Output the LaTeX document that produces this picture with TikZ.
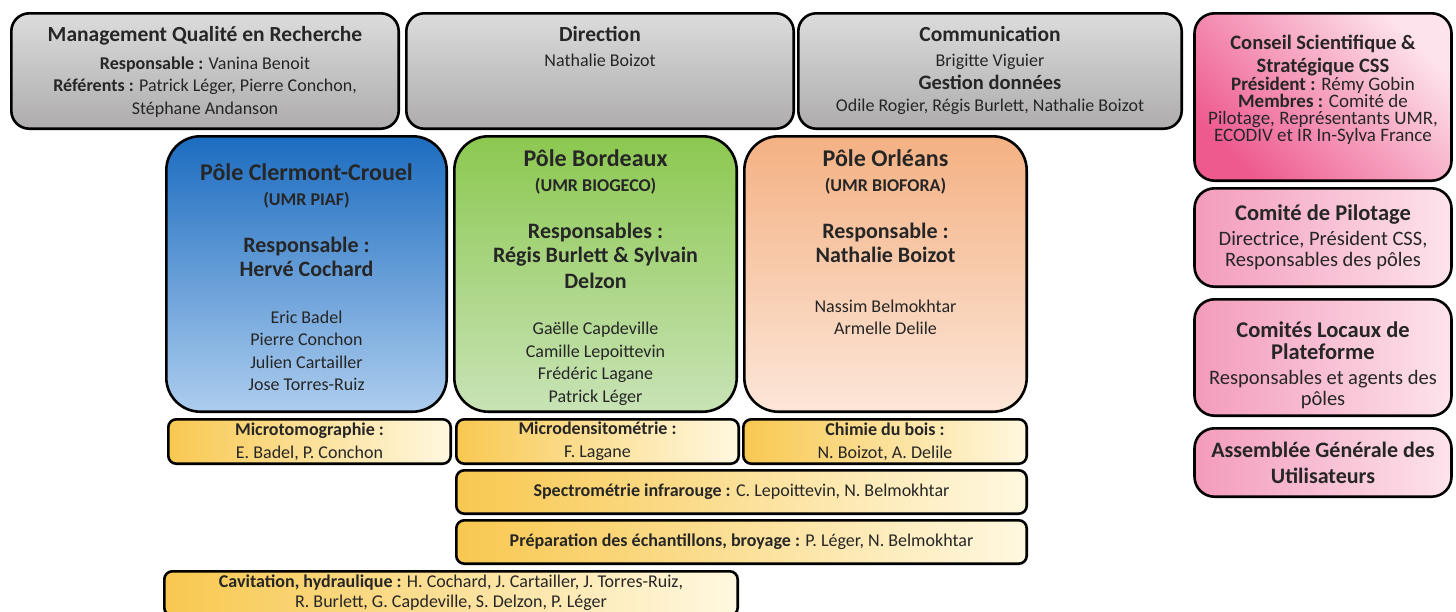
\documentclass[tikz,border=0pt]{standalone}
\usepackage{fontspec}
\setmainfont{Carlito}
\usetikzlibrary{positioning}

\newcommand{\fsz}[2]{\fontsize{#1}{#2}\selectfont}

\definecolor{graytop}{HTML}{DCDCDC}
\definecolor{graybot}{HTML}{AEACAC}
\definecolor{bluetop}{HTML}{1C6CC0}
\definecolor{bluemid}{HTML}{5C9BE0}
\definecolor{bluebot}{HTML}{ADCDEE}
\definecolor{greentop}{HTML}{8CC850}
\definecolor{greenbot}{HTML}{C8E3B6}
\definecolor{orangetop}{HTML}{F4B183}
\definecolor{orangebot}{HTML}{FCE6D8}
\definecolor{goldleft}{HTML}{F8C850}
\definecolor{goldright}{HTML}{FFF8E0}
\definecolor{pinkleft}{HTML}{F39BBB}
\definecolor{pinkright}{HTML}{FDE3EC}
\definecolor{pinkdeep}{HTML}{EE5A8E}
\definecolor{inkdark}{HTML}{262626}

\begin{document}
\begin{tikzpicture}[
    x=1pt, y=-1pt,
    node distance=6pt,
    box/.style={draw=black, line width=2.6pt, anchor=north west, inner sep=0pt, outer sep=0pt},
    topbox/.style={box, rounded corners=18pt, top color=graytop, bottom color=graybot, minimum height=115.4pt},
    pole/.style={box, rounded corners=34pt, minimum height=275.4pt},
    tool/.style={box, rounded corners=8pt, left color=goldleft, right color=goldright, align=center, text=inkdark, font=\fsz{18}{23}},
    council/.style={box, rounded corners=20pt, left color=pinkleft, right color=pinkright, minimum width=257pt},
    boxtext/.style={anchor=north, align=center, inner sep=0pt, text=inkdark, font=\fsz{18}{22.5}},
    pinktext/.style={boxtext, font={\fsz{20.5}{21}\lineskiplimit=-30pt}}
]
\clip (0,0) rectangle (1456,611);
\useasboundingbox (0,0) rectangle (1456,611);

% Bandeau du haut
\node[topbox, minimum width=387.4pt] (mqr) at (11.3,13.3) {};
\node[topbox, minimum width=387.4pt, right=7.6pt of mqr] (direction) {};
\node[topbox, minimum width=383.4pt, right=4.6pt of direction] (comm) {};

\node[boxtext, below=13pt of mqr.north] (mqr_txt) {
    \fsz{21.5}{22}\bfseries Management Qualité en Recherche\\[5pt]
    \textbf{Responsable :} Vanina Benoit\\
    \textbf{Référents :} Patrick Léger, Pierre Conchon,\\
    Stéphane Andanson
};
\node[boxtext, below=13pt of direction.north] (direction_txt) {
    \fsz{21.5}{22}\bfseries Direction\\[2.5pt]
    Nathalie Boizot
};
\node[boxtext, below=13pt of comm.north] (comm_txt) {
    \fsz{21.5}{22}\bfseries Communication\\[2.5pt]
    Brigitte Viguier\\
    \fsz{20.5}{22}\bfseries Gestion données\\
    Odile Rogier, Régis Burlett, Nathalie Boizot
};

% Instances (colonne de droite)
\node[council, minimum height=167.4pt, left color=pinkdeep, right color=pinkright, shading angle=135] (css) at (1194.5,13.3) {};
\node[council, minimum height=98.4pt, below=7.6pt of css] (copil) {};
\node[council, minimum height=116.4pt, below=12.6pt of copil] (clp) {};
\node[council, minimum height=68.4pt, below=12.6pt of clp] (agu) {};

\node[pinktext, font={\fsz{19}{17}\lineskiplimit=-30pt}, below=22pt of css.north] (css_txt) {
    \fsz{20.5}{23}\bfseries Conseil Scientifique \&\\[6pt]
    \fsz{20.5}{23}\bfseries Stratégique CSS\\[1pt]
    \textbf{Président :} Rémy Gobin\\
    \textbf{Membres :} Comité de\\
    Pilotage, Représentants UMR,\\
    ECODIV et IR In-Sylva France
};
\node[pinktext, below=16.5pt of copil.north] (copil_txt) {
    \fsz{22.5}{23}\bfseries Comité de Pilotage\\[4pt]
    Directrice, Président CSS,\\
    Responsables des pôles
};
\node[pinktext, below=22pt of clp.north] (clp_txt) {
    \fsz{22.5}{23}\bfseries Comités Locaux de\\[1pt]
    \fsz{22.5}{23}\bfseries Plateforme\\[4pt]
    Responsables et agents des\\
    pôles
};
\node[pinktext, font={\fsz{22}{26}\lineskiplimit=-30pt}, below=14pt of agu.north] (agu_txt) {
    \bfseries Assemblée Générale des\\
    \bfseries Utilisateurs
};

% Pôles
\node[pole, minimum width=280.4pt, top color=bluetop, middle color=bluemid, bottom color=bluebot] (clermont) at (166.3,136.3) {};
\node[pole, minimum width=282.4pt, top color=greentop, bottom color=greenbot, right=7.6pt of clermont] (bordeaux) {};
\node[pole, minimum width=282.4pt, top color=orangetop, bottom color=orangebot, right=7.6pt of bordeaux] (orleans) {};

\node[boxtext, below=27pt of clermont.north] (clermont_txt) {
    \fsz{24}{25}\bfseries Pôle Clermont-Crouel\\[3pt]
    \fsz{18}{20}\bfseries (UMR PIAF)\\[24pt]
    \fsz{22}{24}\bfseries Responsable :\\[2pt]
    \fsz{22}{24}\bfseries Hervé Cochard\\[24pt]
    Eric Badel\\
    Pierre Conchon\\
    Julien Cartailler\\
    Jose Torres-Ruiz
};
\node[boxtext, below=13pt of bordeaux.north] (bordeaux_txt) {
    \fsz{24}{25}\bfseries Pôle Bordeaux\\[3pt]
    \fsz{18}{20}\bfseries (UMR BIOGECO)\\[24pt]
    \fsz{22}{24}\bfseries Responsables :\\[2pt]
    \fsz{22}{24}\bfseries Régis Burlett \& Sylvain\\[3pt]
    \fsz{22}{24}\bfseries Delzon\\[24pt]
    Gaëlle Capdeville\\
    Camille Lepoittevin\\
    Frédéric Lagane\\
    Patrick Léger
};
\node[boxtext, below=13pt of orleans.north] (orleans_txt) {
    \fsz{24}{25}\bfseries Pôle Orléans\\[3pt]
    \fsz{18}{20}\bfseries (UMR BIOFORA)\\[24pt]
    \fsz{22}{24}\bfseries Responsable :\\[2pt]
    \fsz{22}{24}\bfseries Nathalie Boizot\\[27pt]
    Nassim Belmokhtar\\
    Armelle Delile
};

% Plateformes techniques
\node[tool, minimum width=282.4pt, minimum height=44.4pt] (microtomo) at (168.3,419.3) {
    \bfseries Microtomographie :\\ E. Badel, P. Conchon};
\node[tool, minimum width=282.4pt, minimum height=44.4pt, right=5.6pt of microtomo] (microdensi) {
    \bfseries Microdensitométrie :\\ F. Lagane};
\node[tool, minimum width=283.4pt, minimum height=44.4pt, right=4.6pt of microdensi] (chimie) {
    \bfseries Chimie du bois :\\ N. Boizot, A. Delile};
\node[tool, minimum width=570.4pt, minimum height=43.4pt] (spectro) at (456.3,470.3) {
    \textbf{Spectrométrie infrarouge :} C. Lepoittevin, N. Belmokhtar};
\node[tool, minimum width=570.4pt, minimum height=43.4pt, below=6.6pt of spectro] (prepa) {
    \textbf{Préparation des échantillons, broyage :} P. Léger, N. Belmokhtar};
\node[tool, minimum width=573.4pt, minimum height=44.4pt] (cavit) at (164.3,571.3) {};
\node[boxtext, font=\fsz{18}{20}, below=3pt of cavit.north] (cavit_txt) {
    \textbf{Cavitation, hydraulique :} H. Cochard, J. Cartailler, J. Torres-Ruiz,\\
    R. Burlett, G. Capdeville, S. Delzon, P. Léger};

\end{tikzpicture}
\end{document}
